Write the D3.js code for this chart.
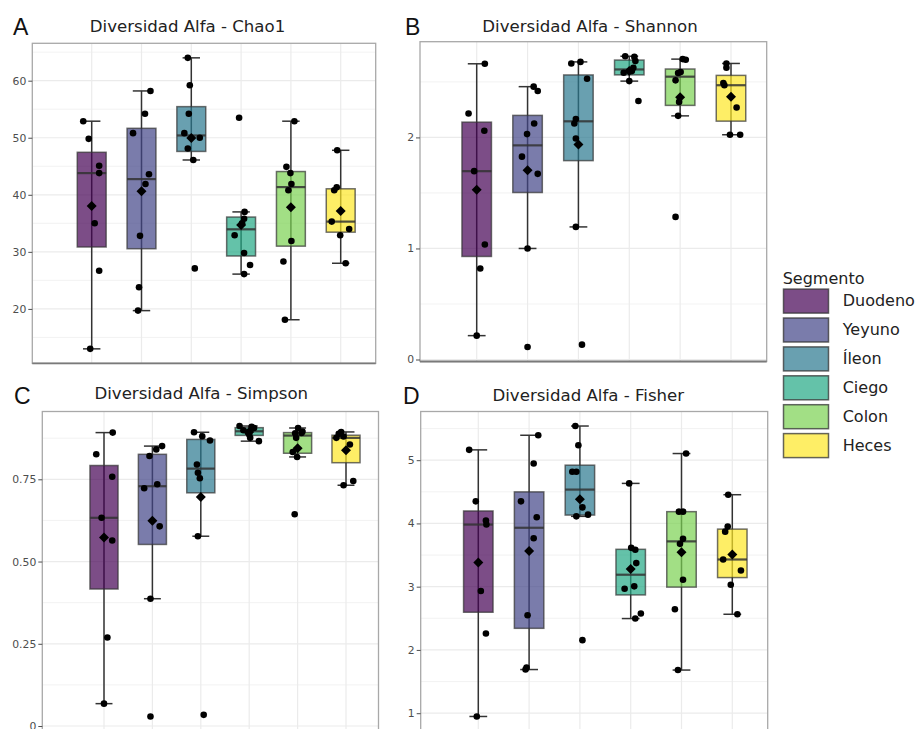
<!DOCTYPE html>
<html>
<head>
<meta charset="utf-8">
<script src="https://cdn.jsdelivr.net/npm/d3@7"></script>
<style>
  body { margin: 0; background: #fff; }
  svg { display: block; }
  .tick text { font-family: "DejaVu Sans", sans-serif; font-size: 10.8px; fill: #4d4d4d; }
  .tick line { stroke: #4d4d4d; }
</style>
</head>
<body>
<svg id="chart" width="918" height="729"></svg>
<script>
// Intestinal segments and their viridis colours
const segmentos = ["Duodeno", "Yeyuno", "Íleon", "Ciego", "Colon", "Heces"];
const colores = ["#440154", "#414487", "#2A788E", "#22A884", "#7AD151", "#FDE725"];

// Chao1 richness per sample, by segment
const chao1 = [
  [52.9, 49.8, 45.1, 43.8, 35.0, 26.7, 13.0],
  [58.2, 54.2, 50.8, 43.6, 41.9, 32.8, 23.8, 19.7],
  [64.0, 59.2, 54.2, 50.8, 50.0, 48.1, 46.1, 27.1],
  [53.5, 37.0, 35.8, 35.0, 32.9, 29.8, 27.7, 26.1],
  [52.9, 44.9, 43.8, 41.9, 40.8, 31.9, 28.3, 18.1],
  [47.8, 41.3, 40.8, 35.3, 34.0, 32.9, 28.0]
];
// horizontal jitter of each sample, in category units
const chao1Jitter = [
  [-0.17, -0.06, 0.15, 0.15, 0.06, 0.15, -0.03],
  [0.18, 0.07, -0.17, 0.15, 0.08, -0.03, -0.05, -0.07],
  [-0.07, -0.03, -0.05, -0.14, 0.17, -0.07, 0.04, 0.07],
  [-0.04, 0.07, 0.06, 0.02, -0.13, 0.06, 0.18, 0.06],
  [0.07, -0.09, -0.01, 0.01, -0.05, 0.01, -0.15, -0.12],
  [-0.07, -0.08, -0.13, -0.18, 0.17, -0.01, 0.10]
];

// Shannon index
const shannon = [
  [2.663, 2.215, 2.06, 1.696, 1.036, 0.82, 0.215],
  [2.457, 2.418, 2.125, 2.03, 1.827, 1.672, 1.0, 0.113],
  [2.666, 2.68, 2.528, 2.165, 2.125, 1.99, 1.194, 0.134],
  [2.731, 2.725, 2.687, 2.627, 2.597, 2.582, 2.507, 2.328],
  [2.705, 2.70, 2.588, 2.58, 2.514, 2.32, 2.194, 1.284],
  [2.666, 2.627, 2.49, 2.47, 2.269, 2.024, 2.024]
];
const shannonJitter = [
  [0.16, -0.16, 0.15, -0.05, 0.16, 0.07, 0],
  [0.12, 0.2, 0.13, -0.01, -0.11, 0.2, 0, 0],
  [-0.14, 0.04, 0.17, -0.05, -0.08, -0.05, -0.05, 0.07],
  [-0.08, 0.1, 0.12, 0.08, 0.05, -0.11, 0, 0.18],
  [0.05, 0.11, 0.01, -0.04, -0.09, -0.02, -0.04, -0.09],
  [-0.09, -0.09, -0.15, -0.13, 0.11, -0.02, 0.18]
];

// Simpson index
const simpson = [
  [0.892, 0.826, 0.758, 0.633, 0.564, 0.269, 0.068],
  [0.851, 0.841, 0.821, 0.735, 0.723, 0.607, 0.387, 0.029],
  [0.893, 0.881, 0.868, 0.795, 0.770, 0.753, 0.577, 0.034],
  [0.912, 0.910, 0.906, 0.899, 0.893, 0.886, 0.876, 0.866],
  [0.906, 0.895, 0.891, 0.890, 0.876, 0.833, 0.818, 0.644],
  [0.894, 0.888, 0.880, 0.876, 0.856, 0.745, 0.732]
];
const simpsonJitter = [
  [0.18, -0.16, 0.17, -0.05, 0.17, 0.07, 0],
  [0.2, 0.08, -0.06, 0.1, -0.17, 0.15, -0.04, -0.04],
  [-0.14, 0.03, 0.19, -0.08, -0.06, -0.02, -0.06, 0.06],
  [-0.2, 0.05, 0.1, -0.12, -0.03, 0, 0.02, 0.2],
  [0.01, 0.1, 0.08, -0.05, -0.03, -0.1, -0.01, -0.06],
  [-0.1, -0.15, -0.05, -0.2, 0.08, 0.15, -0.05]
];

// Fisher's alpha
const fisher = [
  [5.163, 4.349, 4.045, 3.982, 2.932, 2.26, 0.948],
  [5.394, 4.948, 4.349, 4.097, 3.766, 2.549, 1.72, 1.69],
  [5.54, 5.236, 4.816, 4.816, 4.254, 4.139, 4.112, 2.155],
  [4.633, 3.614, 3.583, 3.373, 3.005, 2.968, 2.575, 2.496],
  [5.105, 4.186, 4.186, 3.756, 3.677, 3.11, 2.643, 1.682],
  [4.454, 3.95, 3.87, 3.43, 3.257, 3.031, 2.564]
];
const fisherJitter = [
  [-0.18, -0.05, 0.15, 0.16, 0.05, 0.15, -0.03],
  [0.18, 0.09, -0.16, 0.15, 0.09, -0.03, -0.05, -0.07],
  [-0.09, -0.03, -0.15, -0.07, 0.05, 0.16, -0.07, 0.05],
  [-0.03, 0.01, 0.09, 0.11, 0.07, -0.12, 0.2, 0.09],
  [0.09, -0.05, 0.03, 0.03, -0.03, 0.03, -0.13, -0.07],
  [-0.08, -0.09, -0.14, -0.18, 0.17, -0.03, 0.1]
];

// Axis ticks
const chao1Ticks = [20, 30, 40, 50, 60];
const chao1Labels = ["20", "30", "40", "50", "60"];
const shannonTicks = [0, 1, 2];
const shannonLabels = ["0", "1", "2"];
const simpsonTicks = [0, 0.25, 0.5, 0.75];
const simpsonLabels = ["0", "0.25", "0.50", "0.75"];
const fisherTicks = [1, 2, 3, 4, 5];
const fisherLabels = ["1", "2", "3", "4", "5"];

const titulos = ["Diversidad Alfa - Chao1", "Diversidad Alfa - Shannon",
                 "Diversidad Alfa - Simpson", "Diversidad Alfa - Fisher"];
const letras = ["A", "B", "C", "D"];

// Panel layout
const paneles = [
  { values: chao1, jitter: chao1Jitter, ticks: chao1Ticks, labels: chao1Labels,
    rect: [32.3, 375.7, 43.3, 363.4], cats: [91.7, 340.7],
    title: [187.5, 31.7], letter: [13, 34.5] },
  { values: shannon, jitter: shannonJitter, ticks: shannonTicks, labels: shannonLabels,
    rect: [420, 766.7, 41.7, 361.5], cats: [476.7, 731],
    title: [590, 31.7], letter: [405, 34.5] },
  { values: simpson, jitter: simpsonJitter, ticks: simpsonTicks, labels: simpsonLabels,
    rect: [42.3, 378.5, 411.5, 731], cats: [104, 346],
    title: [201.3, 399.3], letter: [14, 403.5] },
  { values: fisher, jitter: fisherJitter, ticks: fisherTicks, labels: fisherLabels,
    rect: [420.7, 767.7, 411.5, 731], cats: [478.3, 732.3],
    title: [588.3, 400.5], letter: [403, 403.5] }
];

const svg = d3.select("#chart");

function boxStats(vals) {
  const s = vals.slice().sort(d3.ascending);
  const q1 = d3.quantile(s, 0.25), med = d3.quantile(s, 0.5), q3 = d3.quantile(s, 0.75);
  const iqr = q3 - q1;
  const lo = d3.min(s.filter(v => v >= q1 - 1.5 * iqr));
  const hi = d3.max(s.filter(v => v <= q3 + 1.5 * iqr));
  return { q1, med, q3, lo, hi, mean: d3.mean(s) };
}

paneles.forEach((p, pi) => {
  const [x0, x1, y0, y1] = p.rect;
  const all = p.values.flat();
  const mn = d3.min(all), mx = d3.max(all), r = mx - mn;
  const y = d3.scaleLinear().domain([mn - 0.05 * r, mx + 0.05 * r]).range([y1, y0]);
  const x = d3.scalePoint().domain(segmentos).range(p.cats);
  const step = x.step();

  const g = svg.append("g");

  // panel background
  g.append("rect").attr("x", x0).attr("y", y0).attr("width", x1 - x0).attr("height", y1 - y0)
    .attr("fill", "#fff");

  // minor gridlines halfway between major ticks
  const tstep = p.ticks[1] - p.ticks[0];
  const minor = [];
  for (let v = p.ticks[0] - tstep / 2; v <= y.domain()[1]; v += tstep) {
    if (v >= y.domain()[0]) minor.push(v);
  }
  g.selectAll(null).data(minor).join("line")
    .attr("x1", x0).attr("x2", x1).attr("y1", d => y(d)).attr("y2", d => y(d))
    .attr("stroke", "#ededed").attr("stroke-width", 0.7);
  g.selectAll(null).data(p.ticks).join("line")
    .attr("x1", x0).attr("x2", x1).attr("y1", d => y(d)).attr("y2", d => y(d))
    .attr("stroke", "#ebebeb").attr("stroke-width", 1.2);
  g.selectAll(null).data(segmentos).join("line")
    .attr("x1", d => x(d)).attr("x2", d => x(d)).attr("y1", y0).attr("y2", y1)
    .attr("stroke", "#ebebeb").attr("stroke-width", 1.2);

  segmentos.forEach((seg, si) => {
    const vals = p.values[si];
    const st = boxStats(vals);
    const cx = x(seg);
    const bw = 0.29 * step, cw = 0.175 * step;

    // whisker (errorbar) with caps
    g.append("line").attr("x1", cx).attr("x2", cx).attr("y1", y(st.lo)).attr("y2", y(st.hi))
      .attr("stroke", "#333").attr("stroke-width", 1.5);
    [st.lo, st.hi].forEach(v => {
      g.append("line").attr("x1", cx - cw).attr("x2", cx + cw).attr("y1", y(v)).attr("y2", y(v))
        .attr("stroke", "#333").attr("stroke-width", 1.5);
    });

    // box
    g.append("rect").attr("x", cx - bw).attr("width", 2 * bw)
      .attr("y", y(st.q3)).attr("height", y(st.q1) - y(st.q3))
      .attr("fill", colores[si]).attr("fill-opacity", 0.7)
      .attr("stroke", "#333").attr("stroke-opacity", 0.7).attr("stroke-width", 1.5);
    g.append("line").attr("x1", cx - bw).attr("x2", cx + bw)
      .attr("y1", y(st.med)).attr("y2", y(st.med))
      .attr("stroke", "#333").attr("stroke-opacity", 0.85).attr("stroke-width", 2.2);

    // samples
    g.selectAll(null).data(vals.map((v, k) => [v, p.jitter[si][k]])).join("circle")
      .attr("cx", d => cx + d[1] * step).attr("cy", d => y(d[0])).attr("r", 3.3)
      .attr("fill", "#000");

    // mean
    const m = 5;
    g.append("path")
      .attr("d", `M${cx},${y(st.mean) - m}L${cx + m},${y(st.mean)}L${cx},${y(st.mean) + m}L${cx - m},${y(st.mean)}Z`)
      .attr("fill", "#000");
  });

  // panel border
  g.append("rect").attr("x", x0).attr("y", y0).attr("width", x1 - x0).attr("height", y1 - y0)
    .attr("fill", "none").attr("stroke", "#a8a8a8").attr("stroke-width", 1.3);
  g.append("line").attr("x1", x0).attr("x2", x1).attr("y1", y1).attr("y2", y1)
    .attr("stroke", "#7a7a7a").attr("stroke-width", 1.8);

  // y axis
  const axis = d3.axisLeft(y).tickValues(p.ticks).tickFormat((d, i) => p.labels[i])
    .tickSize(4).tickPadding(2);
  const ag = g.append("g").attr("transform", `translate(${x0},0)`).call(axis);
  ag.select(".domain").remove();

  // title and panel letter
  g.append("text").attr("x", p.title[0]).attr("y", p.title[1]).attr("text-anchor", "middle")
    .attr("font-family", "DejaVu Sans, sans-serif").attr("font-size", 16.6).attr("fill", "#222")
    .text(titulos[pi]);
  g.append("text").attr("x", p.letter[0]).attr("y", p.letter[1])
    .attr("font-family", "Liberation Sans, Arial, sans-serif").attr("font-size", 23).attr("fill", "#111")
    .text(letras[pi]);
});

// legend
const leg = svg.append("g").attr("transform", "translate(782.7,0)");
leg.append("text").attr("x", 0).attr("y", 284).attr("font-family", "DejaVu Sans, sans-serif")
  .attr("font-size", 16).attr("fill", "#222").text("Segmento");
segmentos.forEach((seg, i) => {
  const top = 288.3 + i * 28.9;
  leg.append("rect").attr("x", 0.8).attr("y", top + 0.8).attr("width", 45).attr("height", 24)
    .attr("fill", colores[i]).attr("fill-opacity", 0.7)
    .attr("stroke", "#333").attr("stroke-opacity", 0.75).attr("stroke-width", 1.5);
  leg.append("text").attr("x", 60).attr("y", top + 18).attr("font-family", "DejaVu Sans, sans-serif")
    .attr("font-size", 16).attr("fill", "#222").text(seg);
});
</script>
</body>
</html>
